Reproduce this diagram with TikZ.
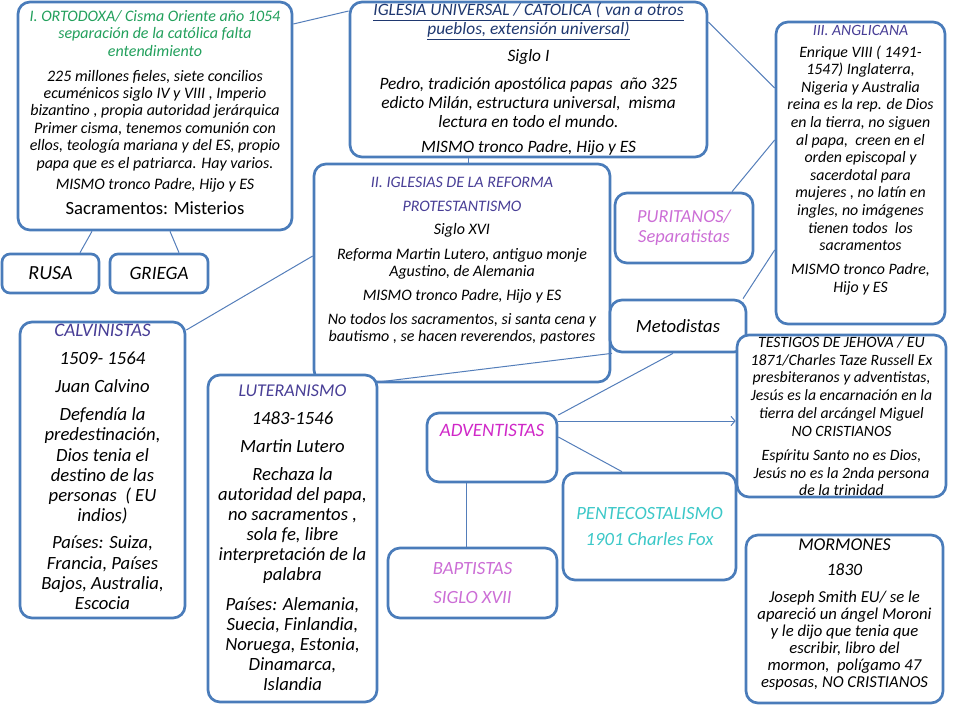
\documentclass[tikz,border=0pt]{standalone}
\usepackage{fontspec}
\setmainfont{Carlito}
\usetikzlibrary{arrows.meta, positioning, calc, fit}

\definecolor{boxblue}{RGB}{74,124,186}
\definecolor{linkblue}{RGB}{84,126,186}
\definecolor{ortgreen}{RGB}{34,160,92}
\definecolor{navytitle}{RGB}{31,56,112}
\definecolor{reftitle}{RGB}{72,62,150}
\definecolor{advmagenta}{RGB}{208,40,200}
\definecolor{orchidtitle}{RGB}{204,110,214}
\definecolor{pentturq}{RGB}{60,200,200}

\tikzset{
  box/.style={draw=boxblue, line width=2pt, rounded corners=9pt, fill=white, inner sep=0pt},
  smallbox/.style={box, rounded corners=6pt},
  txt/.style={align=center, inner sep=0pt},
  link/.style={draw=linkblue, line width=0.75pt}
}

\begin{document}
\begin{tikzpicture}[x=0.75pt, y=-0.75pt]
    \useasboundingbox (0,0) rectangle (960,720);

    % boxes
    \node[box, fit={(18,2) (292,230)}] (orto) {};
    \node[box, fit={(350,2) (707,157)}] (igl) {};
    \node[smallbox, fit={(2,254) (99,293)}] (rusa) {};
    \node[smallbox, fit={(110,254) (208,293)}] (grie) {};
    \node[box, fit={(314,164) (610,382)}] (ref) {};
    \node[box, fit={(615,193) (753,263)}] (puri) {};
    \node[box, fit={(610,300) (746,352)}] (meto) {};
    \node[box, fit={(776,22) (945,324)}] (angl) {};
    \node[box, fit={(20,322) (185,618)}] (calv) {};
    \node[box, fit={(208,375) (377,702)}] (lut) {};
    \node[box, fit={(427,413) (557,482)}] (adv) {};
    \node[box, fit={(737,335) (946,497)}] (test) {};
    \node[box, fit={(563,473) (736,580)}] (pent) {};
    \node[box, fit={(388,548) (557,618)}] (bapt) {};
    \node[box, fit={(746,535) (943,703)}] (morm) {};

    % texts
    \node[txt, font=\fontsize{12}{13.1}\selectfont\itshape, below=7pt of orto.north] (ortoT) {
        \textcolor{ortgreen}{I. ORTODOXA/ Cisma Oriente año 1054}\\
        \textcolor{ortgreen}{separación de la católica falta}\\
        \textcolor{ortgreen}{entendimiento}\\[5.5pt]
        225 millones fieles, siete concilios\\
        ecuménicos siglo IV y VIII , Imperio\\
        bizantino , propia autoridad jerárquica\\
        Primer cisma, tenemos comunión con\\
        ellos, teología mariana y del ES, propio\\
        papa que es el patriarca. Hay varios.\\[2.6pt]
        MISMO tronco Padre, Hijo y ES\\[5.5pt]
        {\fontsize{14}{17}\selectfont\upshape Sacramentos: Misterios}
    };
    \node[txt, font=\fontsize{13}{14.3}\selectfont\itshape, below=1.5pt of igl.north] (iglT) {
        \textcolor{navytitle}{\underline{IGLESIA UNIVERSAL / CATOLICA ( van a otros}}\\
        \textcolor{navytitle}{\underline{pueblos, extensión universal)}}\\[5.5pt]
        Siglo I\\[7pt]
        Pedro, tradición apostólica papas \ año 325\\
        edicto Milán, estructura universal, \ misma\\
        lectura en todo el mundo.\\[4.5pt]
        MISMO tronco Padre, Hijo y ES
    };
    \node[txt, font=\fontsize{15}{16}\selectfont\itshape] (rusaT) at (rusa.center) {RUSA};
    \node[txt, font=\fontsize{14.2}{16}\selectfont\itshape] (grieT) at (grie.center) {GRIEGA};
    \node[txt, font=\fontsize{12}{12.75}\selectfont\itshape, below=11pt of ref.north] (refT) {
        \textcolor{reftitle}{II. IGLESIAS DE LA REFORMA}\\[5.2pt]
        \textcolor{reftitle}{PROTESTANTISMO}\\[4.5pt]
        Siglo XVI\\[6pt]
        Reforma Martin Lutero, antiguo monje\\
        Agustino, de Alemania\\[5.2pt]
        MISMO tronco Padre, Hijo y ES\\[5.2pt]
        No todos los sacramentos, si santa cena y\\
        bautismo , se hacen reverendos, pastores
    };
    \node[txt, font=\fontsize{13.8}{15}\selectfont\itshape, text=orchidtitle] (puriT) at (puri.center) {
        PURITANOS/\\
        Separatistas
    };
    \node[txt, font=\fontsize{14}{15}\selectfont\itshape] (metoT) at (meto.center) {Metodistas};
    \node[txt, font=\fontsize{11.9}{13.2}\selectfont\itshape, below=3.5pt of angl.north] (anglT) {
        \textcolor{reftitle}{\fontsize{11.75}{13.2}\selectfont III. ANGLICANA}\\[2.8pt]
        Enrique VIII ( 1491-\\
        1547) Inglaterra,\\
        Nigeria y Australia\\
        reina es la rep. de Dios\\
        en la tierra, no siguen\\
        al papa, \ creen en el\\
        orden episcopal y\\
        sacerdotal para\\
        mujeres , no latín en\\
        ingles, no imágenes\\
        tienen todos \ los\\
        sacramentos\\[5pt]
        MISMO tronco Padre,\\
        Hijo y ES
    };
    \node[txt, font=\fontsize{14}{15.2}\selectfont\itshape, below=2.5pt of calv.north] (calvT) {
        \textcolor{reftitle}{\fontsize{14.3}{15.2}\selectfont CALVINISTAS}\\[5.8pt]
        1509- 1564\\[5.8pt]
        Juan Calvino\\[5.8pt]
        Defendía la\\
        predestinación,\\
        Dios tenia el\\
        destino de las\\
        personas \ ( EU\\
        indios)\\[5pt]
        Países: Suiza,\\
        Francia, Países\\
        Bajos, Australia,\\
        Escocia
    };
    \node[txt, font=\fontsize{14}{15}\selectfont\itshape, below=8pt of lut.north] (lutT) {
        \textcolor{reftitle}{\fontsize{13.5}{15}\selectfont LUTERANISMO}\\[6pt]
        1483-1546\\[6pt]
        Martin Lutero\\[6.5pt]
        Rechaza la\\
        autoridad del papa,\\
        no sacramentos ,\\
        sola fe, libre\\
        interpretación de la\\
        palabra\\[7pt]
        Países: Alemania,\\
        Suecia, Finlandia,\\
        Noruega, Estonia,\\
        Dinamarca,\\
        Islandia
    };
    \node[txt, font=\fontsize{14.2}{15}\selectfont\itshape, text=advmagenta, below=9.5pt of adv.north] (advT) {ADVENTISTAS};
    \node[txt, font=\fontsize{11.8}{13.3}\selectfont\itshape, below=2pt of test.north] (testT) {
        TESTIGOS DE JEHOVA / EU\\
        1871/Charles Taze Russell Ex\\
        presbiteranos y adventistas,\\
        Jesús es la encarnación en la\\
        tierra del arcángel Miguel\\
        NO CRISTIANOS\\[5pt]
        Espíritu Santo no es Dios,\\
        Jesús no es la 2nda persona\\
        de la trinidad
    };
    \node[txt, font=\fontsize{14}{14.6}\selectfont\itshape, text=pentturq] (pentT) at (pent.center) {
        PENTECOSTALISMO\\[5.6pt]
        1901 Charles Fox
    };
    \node[txt, font=\fontsize{14}{14}\selectfont\itshape, text=orchidtitle] (baptT) at (bapt.center) {
        BAPTISTAS\\[7.5pt]
        SIGLO XVII
    };
    \node[txt, font=\fontsize{12.5}{12.75}\selectfont\itshape, below=3.5pt of morm.north] (mormT) {
        {\fontsize{13.5}{12.75}\selectfont MORMONES}\\[6pt]
        {\fontsize{13}{12.75}\selectfont 1830}\\[8pt]
        Joseph Smith EU/ se le\\
        apareció un ángel Moroni\\
        y le dijo que tenia que\\
        escribir, libro del\\
        mormon, \ polígamo 47\\
        esposas, NO CRISTIANOS
    };

    % connectors
    \draw[link] (orto.east |- 0,24) -- (igl.west |- 0,11);
    \draw[link] (orto.south -| 92,0) -- (rusa.north -| 80,0);
    \draw[link] (orto.south -| 170,0) -- (grie.north -| 179,0);
    \draw[link] (igl.south -| 468,0) -- (ref.north -| 468,0);
    \draw[link] (igl.east |- 0,22) -- (angl.west |- 0,88);
    \draw[link] (puri.north -| 732,0) -- (angl.west |- 0,140);
    \draw[link] (meto.north -| 743,0) -- (angl.west |- 0,250);
    \draw[link] (ref.west |- 0,256) -- (calv.east |- 0,330);
    \draw[link] (lut.east |- 0,382) -- (meto.south -| 612,0);
    \draw[link] (adv.east |- 0,415) -- (meto.south -| 673,0);
    \draw[link, -{Straight Barb[length=3pt, width=7pt]}] (adv.east |- 0,421) -- (test.west |- 0,421);
    \draw[link] (adv.east |- 0,437) -- (pent.north -| 622,0);
    \draw[link] (adv.south -| 466,0) -- (bapt.north -| 466,0);
\end{tikzpicture}
\end{document}
